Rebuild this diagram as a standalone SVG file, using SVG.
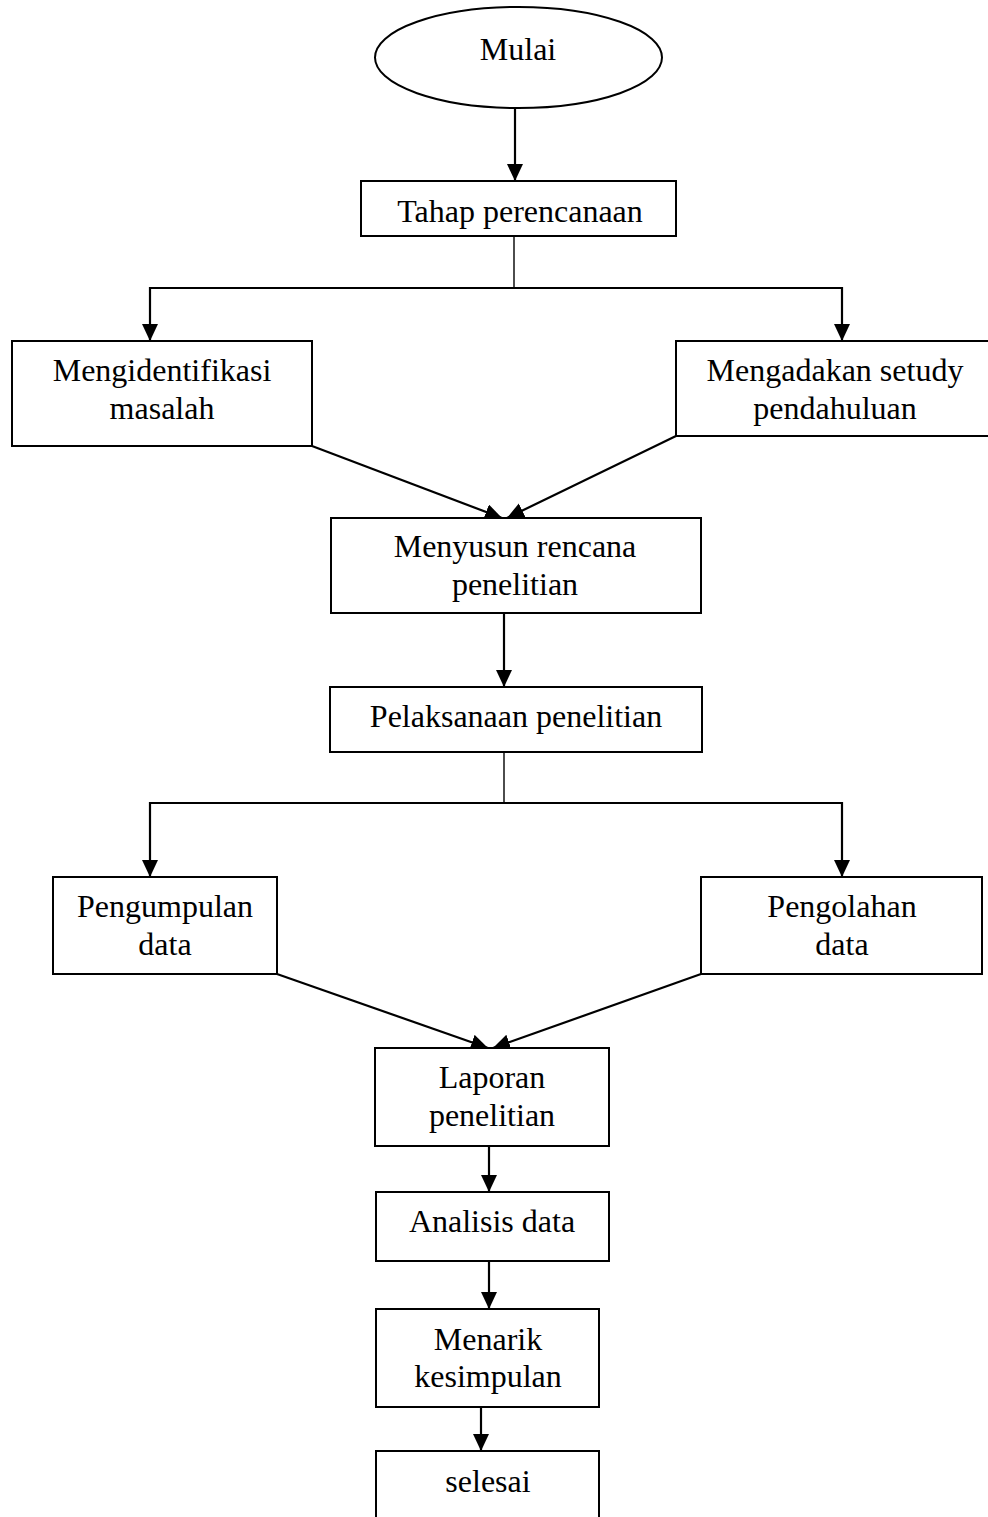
<svg xmlns="http://www.w3.org/2000/svg" width="988" height="1517" viewBox="0 0 988 1517">
<style>
.box{fill:#fff;stroke:#000;stroke-width:2}
text{font-family:'Liberation Serif','Times New Roman',Times,serif;font-size:32px;fill:#000;text-anchor:middle}
.c{fill:none;stroke:#000;stroke-width:2.2}
.thin{fill:none;stroke:#000;stroke-width:1.4}
</style>
<defs>
<marker id="ah" markerUnits="userSpaceOnUse" markerWidth="20" markerHeight="18" refX="17" refY="8" orient="auto">
<path d="M0,0 L17,8 L0,16 Z" fill="#000"/>
</marker>
</defs>
<rect width="988" height="1517" fill="#fff"/>
<g id="connectors">
<line class="c" x1="515" y1="108" x2="515" y2="181" marker-end="url(#ah)"/>
<line class="thin" x1="514" y1="236" x2="514" y2="288"/>
<path class="c" d="M514,288 H150 V341" marker-end="url(#ah)"/>
<path class="c" d="M514,288 H842 V341" marker-end="url(#ah)"/>
<line class="c" x1="312" y1="446" x2="502" y2="518" marker-end="url(#ah)"/>
<line class="c" x1="676" y1="436" x2="507" y2="518" marker-end="url(#ah)"/>
<line class="c" x1="504" y1="613" x2="504" y2="687" marker-end="url(#ah)"/>
<line class="thin" x1="504" y1="752" x2="504" y2="803"/>
<path class="c" d="M504,803 H150 V877" marker-end="url(#ah)"/>
<path class="c" d="M504,803 H842 V877" marker-end="url(#ah)"/>
<line class="c" x1="277" y1="974" x2="488" y2="1048" marker-end="url(#ah)"/>
<line class="c" x1="701" y1="974" x2="493" y2="1048" marker-end="url(#ah)"/>
<line class="c" x1="489" y1="1146" x2="489" y2="1192" marker-end="url(#ah)"/>
<line class="c" x1="489" y1="1261" x2="489" y2="1309" marker-end="url(#ah)"/>
<line class="c" x1="481" y1="1407" x2="481" y2="1451" marker-end="url(#ah)"/>
</g>
<g id="mulai">
<ellipse class="box" cx="518.5" cy="57.5" rx="143.5" ry="50.5"/>
<text x="518" y="60">Mulai</text>
</g>
<g id="tahap">
<rect class="box" x="361" y="181" width="315" height="55"/>
<text x="520" y="222">Tahap perencanaan</text>
</g>
<g id="identifikasi">
<rect class="box" x="12" y="341" width="300" height="105"/>
<text x="162" y="381">Mengidentifikasi</text>
<text x="162" y="419">masalah</text>
</g>
<g id="setudy">
<rect class="box" x="676" y="341" width="320" height="95"/>
<text x="835" y="381">Mengadakan setudy</text>
<text x="835" y="419">pendahuluan</text>
</g>
<g id="menyusun">
<rect class="box" x="331" y="518" width="370" height="95"/>
<text x="515" y="557">Menyusun rencana</text>
<text x="515" y="595">penelitian</text>
</g>
<g id="pelaksanaan">
<rect class="box" x="330" y="687" width="372" height="65"/>
<text x="516" y="727">Pelaksanaan penelitian</text>
</g>
<g id="pengumpulan">
<rect class="box" x="53" y="877" width="224" height="97"/>
<text x="165" y="917">Pengumpulan</text>
<text x="165" y="955">data</text>
</g>
<g id="pengolahan">
<rect class="box" x="701" y="877" width="281" height="97"/>
<text x="842" y="917">Pengolahan</text>
<text x="842" y="955">data</text>
</g>
<g id="laporan">
<rect class="box" x="375" y="1048" width="234" height="98"/>
<text x="492" y="1088">Laporan</text>
<text x="492" y="1126">penelitian</text>
</g>
<g id="analisis">
<rect class="box" x="376" y="1192" width="233" height="69"/>
<text x="492" y="1232">Analisis data</text>
</g>
<g id="menarik">
<rect class="box" x="376" y="1309" width="223" height="98"/>
<text x="488" y="1350">Menarik</text>
<text x="488" y="1387">kesimpulan</text>
</g>
<g id="selesai">
<path class="box" d="M376,1530 L376,1451 L599,1451 L599,1530"/>
<text x="488" y="1492">selesai</text>
</g>
</svg>
